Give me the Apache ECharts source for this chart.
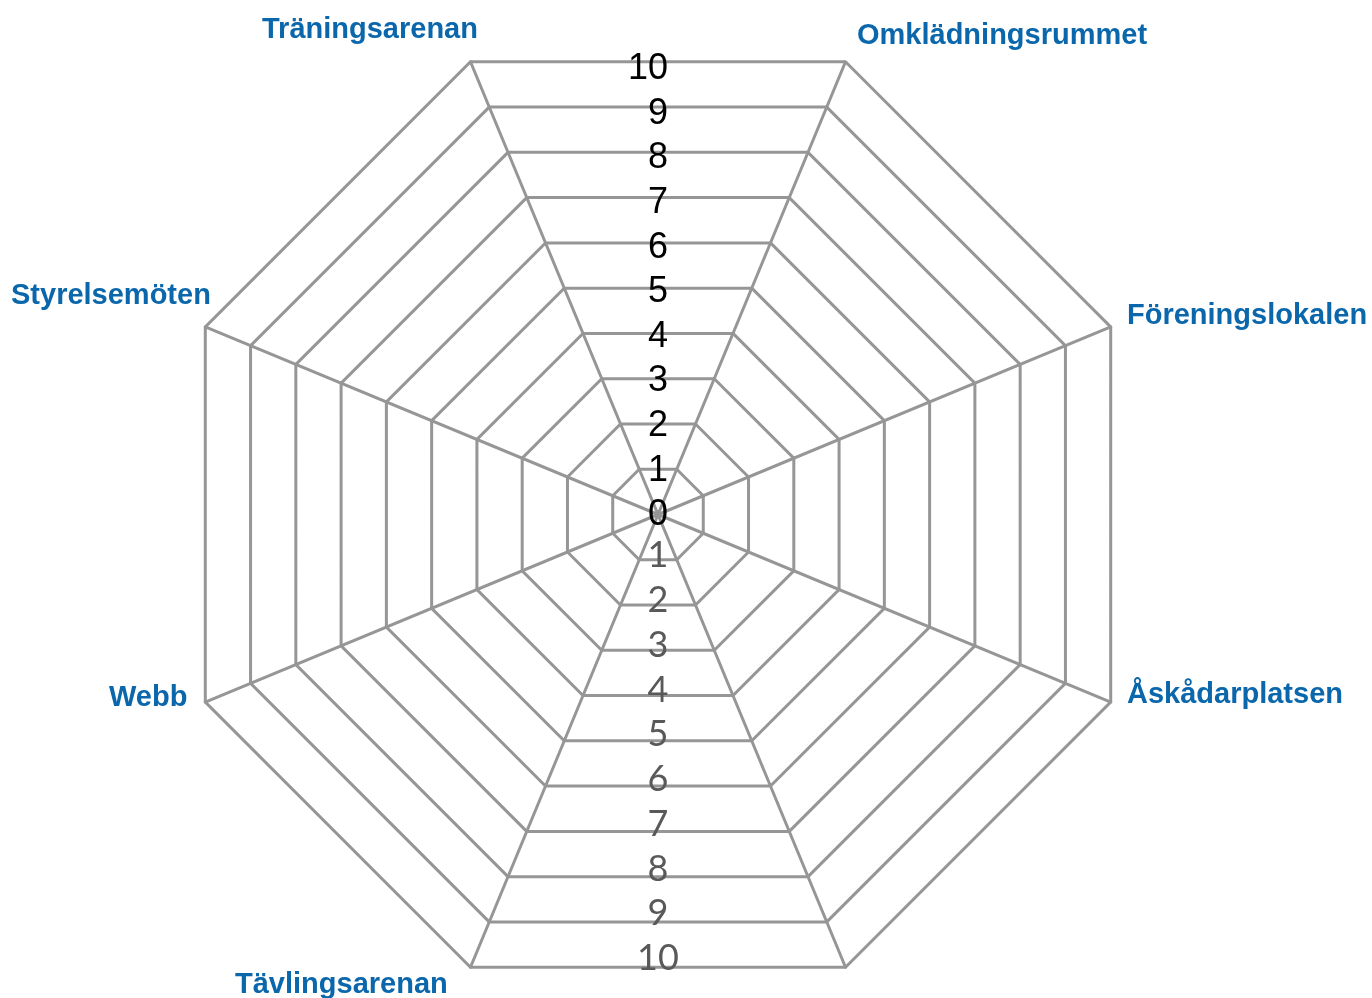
<!DOCTYPE html>
<html>
<head>
<meta charset="utf-8">
<script src="https://cdn.jsdelivr.net/npm/echarts@6/dist/echarts.min.js"></script>
<style>
html,body{margin:0;padding:0;background:#fff;}
#chart{width:1372px;height:998px;}
</style>
</head>
<body>
<div id="chart"></div>
<script>
// Indicator order runs counter-clockwise from startAngle 67.5°
const indicatorNames = ['Omklädningsrummet', 'Träningsarenan', 'Styrelsemöten', 'Webb', 'Tävlingsarenan', '', 'Åskådarplatsen', 'Föreningslokalen'];
const indicatorMax = 10;
const upperTicks = ['0','1','2','3','4','5','6','7','8','9','10'];
const lowerTicks = ['0','1','2','3','4','5','6','7','8','9','10'];
const seriesValues = []; // chart carries no data polygon

// label placement (pixel anchors for the category names)
const namePlacement = {
  'Träningsarenan':   {x: 262,  y: 29.5, align: 'left'},
  'Omklädningsrummet':{x: 857,  y: 35.5, align: 'left'},
  'Styrelsemöten':    {x: 11,   y: 295.5, align: 'left'},
  'Föreningslokalen': {x: 1127, y: 315.5, align: 'left'},
  'Åskådarplatsen':   {x: 1127, y: 694.5, align: 'left'},
  'Webb':             {x: 109,  y: 697.5, align: 'left'},
  'Tävlingsarenan':   {x: 235,  y: 985, align: 'left'}
};

const chart = echarts.init(document.getElementById('chart'));
const gray = '#969696';

const graphics = indicatorNames.filter(n => n).map(n => ({
  type: 'text',
  x: namePlacement[n].x,
  y: namePlacement[n].y,
  z: 10,
  style: {
    text: n,
    fill: '#0b67ab',
    font: 'bold 29px "Liberation Sans", Arial, sans-serif',
    textAlign: namePlacement[n].align,
    textVerticalAlign: 'middle'
  }
}));

chart.setOption({
  animation: false,
  backgroundColor: '#ffffff',
  radar: {
    center: [658, 514.5],
    radius: 490,
    startAngle: 67.5,
    shape: 'polygon',
    splitNumber: 10,
    indicator: indicatorNames.map(n => ({name: n, min: 0, max: indicatorMax})),
    axisName: {show: false},
    axisLine: {lineStyle: {color: gray, width: 3}},
    splitLine: {lineStyle: {color: gray, width: 3}},
    splitArea: {show: false},
    axisTick: {show: false},
    axisLabel: {show: false}
  },
  grid: [
    {left: 668, width: 2, top: 69, height: 446.5, show: false},
    {left: 658, width: 2, top: 511, height: 447.5, show: false}
  ],
  xAxis: [
    {gridIndex: 0, type: 'value', show: false},
    {gridIndex: 1, type: 'value', show: false}
  ],
  yAxis: [
    {
      gridIndex: 0, type: 'value', min: 0, max: upperTicks.length - 1, interval: 1, position: 'left', z: 5,
      axisLine: {show: false}, axisTick: {show: false}, splitLine: {show: false},
      axisLabel: {
        margin: 0, align: 'right', color: '#000000', fontSize: 36,
        fontFamily: '"Liberation Sans", Arial, sans-serif',
        formatter: v => upperTicks[v]
      }
    },
    {
      gridIndex: 1, type: 'value', min: 0, max: lowerTicks.length - 1, interval: 1, inverse: true, position: 'left', z: 5,
      axisLine: {show: false}, axisTick: {show: false}, splitLine: {show: false},
      axisLabel: {
        margin: 0, align: 'center', color: '#595959', fontSize: 36,
        fontFamily: 'Lato, "Open Sans", sans-serif',
        showMinLabel: false,
        formatter: v => (v === 0 ? '' : lowerTicks[v])
      }
    }
  ],
  graphic: graphics,
  series: [{type: 'radar', radarIndex: 0, data: seriesValues}]
});
</script>
</body>
</html>
